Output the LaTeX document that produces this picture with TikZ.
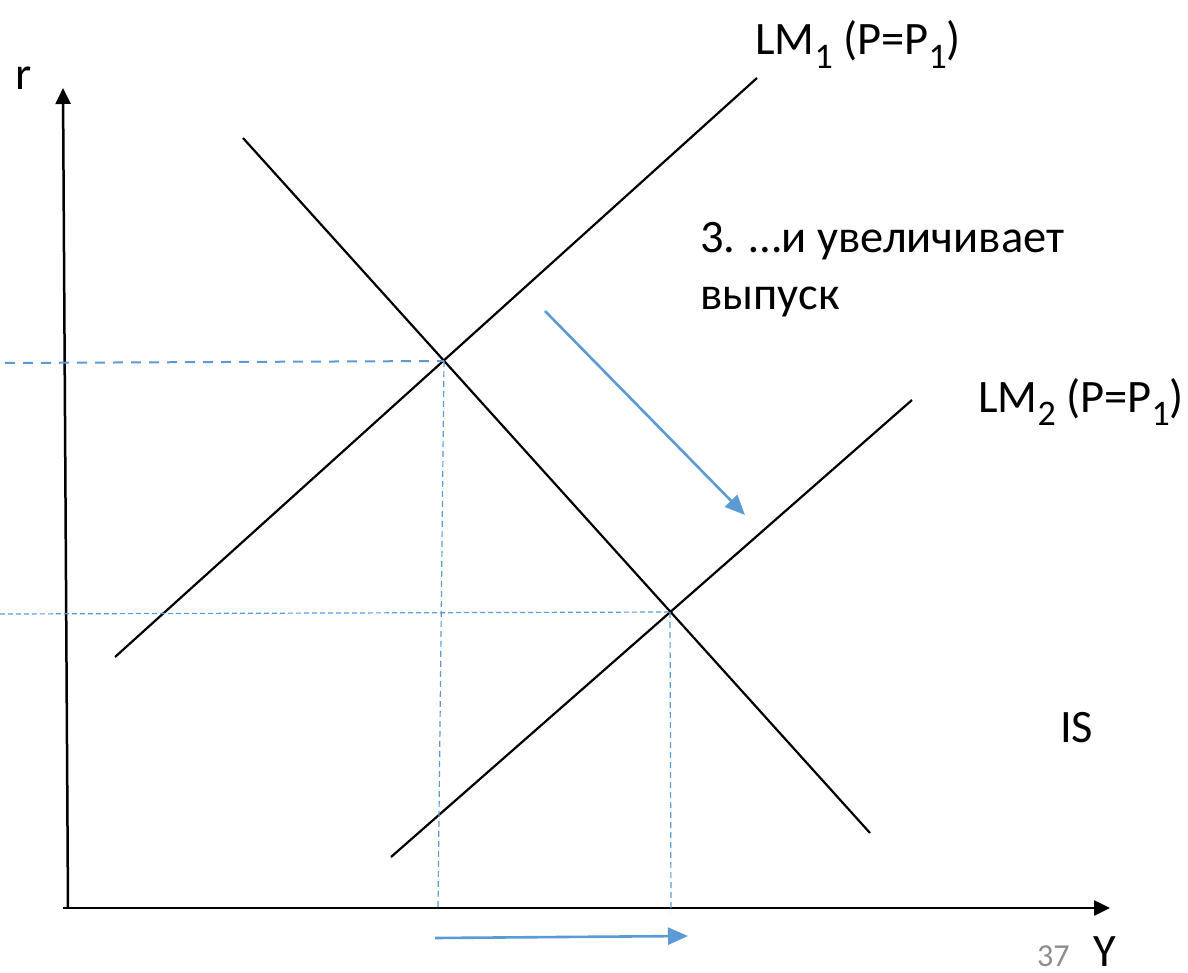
\documentclass[tikz,border=0pt]{standalone}
\usepackage{fontspec}
\setmainfont{Carlito}
\usetikzlibrary{arrows.meta, positioning, calc}

\definecolor{officeblue}{HTML}{5B9BD5}
\newcommand{\subidx}[1]{\raisebox{-0.28em}{\fontsize{36}{36}\selectfont #1}}

\begin{document}
\begin{tikzpicture}[
    x=1pt, y=-1pt,
    txt/.style={anchor=base west, inner sep=0, font=\fontsize{46.5}{57}\selectfont},
    axis/.style={draw, line width=2.5pt, -{Triangle[length=16pt, width=15pt]}},
    curve/.style={draw, line width=2.2pt},
    guide/.style={draw=officeblue, line width=1.2pt, dash pattern=on 6pt off 4pt},
    shiftarrow/.style={draw=officeblue, line width=2.6pt, -{Triangle[length=20pt, width=17pt]}}
]
\useasboundingbox (0,0) rectangle (1188,973);

% axes
\coordinate (origin) at (68,908);
\coordinate (rtop) at (63,88);
\coordinate (yend) at (1110,908);
\path [axis] (origin) -- (rtop);
\path [axis] (63,908) -- (yend);
\node [txt] (rlab) at (15,90) {r};
\node [txt] (ylab) at (1093,966) {Y};
\node [txt, font=\fontsize{32}{32}\selectfont, text=black!45] (page) at (1037,966) {37};

% curves
\coordinate (is1) at (243,138);
\coordinate (is2) at (870,833);
\coordinate (lma1) at (115,657);
\coordinate (lma2) at (757,78);
\coordinate (lmb1) at (391,857);
\coordinate (lmb2) at (912,400);
\path [curve] (is1) -- (is2);
\path [curve] (lma1) -- (lma2);
\path [curve] (lmb1) -- (lmb2);

% equilibria
\coordinate (eqa) at (444,361);
\coordinate (eqb) at (670,612);
\path [guide, line width=2pt, dash pattern=on 10pt off 8pt] (5,363) -- (eqa);
\path [guide, dash pattern=on 5pt off 3pt] (0,614) -- (eqb);
\path [guide] (eqa) -- (438,908);
\path [guide] (eqb) -- (671,912);

% shifts
\coordinate (sa) at (545,311);
\coordinate (sb) at (745,515);
\coordinate (ya) at (435,938);
\coordinate (yb) at (688,936);
\path [shiftarrow] (sa) -- (sb);
\path [shiftarrow] (ya) -- (yb);

% labels
\node [txt] (lmalab) at (755,55) {LM\subidx{1} (P=P\subidx{1})};
\node [txt] (lmblab) at (978,412) {LM\subidx{2} (P=P\subidx{1})};
\node [txt] (islab) at (1060,742) {IS};
\node [txt, align=left] (note) at (700,310) {3. …и увеличивает\\выпуск};
\end{tikzpicture}
\end{document}
